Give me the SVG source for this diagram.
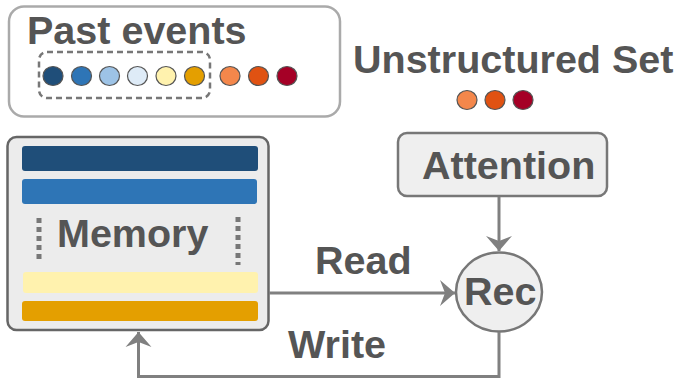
<svg xmlns="http://www.w3.org/2000/svg" width="681" height="378" viewBox="0 0 681 378">
  <style>
    .lbl { font-family: "Liberation Sans", Arial, sans-serif; font-weight: bold; font-size: 39.5px; fill: #555555; }
    .dot { stroke: #555555; stroke-width: 1.2; }
    .box { fill: #efefef; stroke: #777777; stroke-width: 2.5; }
    .bar { stroke: none; }
    .wire { fill: none; stroke: #808080; stroke-width: 3; }
    .vdots { stroke: #777777; stroke-width: 5; stroke-dasharray: 5 4; }
  </style>
  <defs>
    <marker id="arrow" markerUnits="userSpaceOnUse" viewBox="-16 -14 17 28" refX="0" refY="0" markerWidth="17" markerHeight="28" orient="auto">
      <path d="M0,0 L-15,-13 L-10,0 L-15,13 Z" fill="#808080"/>
    </marker>
  </defs>

  <!-- event stream panel -->
  <g id="past-events">
    <rect x="9" y="6.5" width="331" height="110" rx="15" fill="#ffffff" stroke="#aaaaaa" stroke-width="2.5"/>
    <text class="lbl" x="27" y="44">Past events</text>
    <rect x="39" y="52" width="171" height="46" rx="8" fill="none" stroke="#777777" stroke-width="2.5" stroke-dasharray="6 4"/>
    <ellipse class="dot" cx="53" cy="76" rx="10" ry="9.5" fill="#1f4e79"/>
    <ellipse class="dot" cx="81.5" cy="76" rx="10" ry="9.5" fill="#2e75b6"/>
    <ellipse class="dot" cx="109.5" cy="76" rx="10" ry="9.5" fill="#9dc3e6"/>
    <ellipse class="dot" cx="137.5" cy="76" rx="10" ry="9.5" fill="#deebf7"/>
    <ellipse class="dot" cx="166" cy="76" rx="10" ry="9.5" fill="#fff2ae"/>
    <ellipse class="dot" cx="194.5" cy="76" rx="10" ry="9.5" fill="#e49f00"/>
    <ellipse class="dot" cx="230" cy="76" rx="10" ry="9.5" fill="#f4874b"/>
    <ellipse class="dot" cx="258.5" cy="76" rx="10" ry="9.5" fill="#e05212"/>
    <ellipse class="dot" cx="287" cy="76" rx="10" ry="9.5" fill="#a50026"/>
  </g>

  <!-- unstructured set -->
  <g id="unstructured-set">
    <text class="lbl" x="353" y="73">Unstructured Set</text>
    <ellipse class="dot" cx="467" cy="100" rx="10" ry="9.5" fill="#f4874b"/>
    <ellipse class="dot" cx="495" cy="100" rx="10" ry="9.5" fill="#e05212"/>
    <ellipse class="dot" cx="523" cy="100" rx="10" ry="9.5" fill="#a50026"/>
  </g>

  <!-- memory slots -->
  <g id="memory">
    <rect x="7.5" y="137" width="261" height="193" rx="9" fill="#ececec" stroke="#666666" stroke-width="2.5"/>
    <rect class="bar" x="22" y="146" width="236" height="25" rx="3" fill="#1f4e79"/>
    <rect class="bar" x="22" y="179" width="235" height="25" rx="3" fill="#2e75b6"/>
    <rect class="bar" x="23" y="272" width="235" height="21" rx="3" fill="#fff2ae"/>
    <rect class="bar" x="22" y="301" width="236" height="20" rx="3" fill="#e49f00"/>
    <line class="vdots" x1="39" y1="218" x2="39" y2="262"/>
    <line class="vdots" x1="238" y1="217" x2="238" y2="265"/>
    <text class="lbl" x="57" y="247">Memory</text>
  </g>

  <!-- attention module -->
  <g id="attention">
    <rect class="box" x="398" y="133" width="209" height="63" rx="9"/>
    <text class="lbl" x="422" y="179">Attention</text>
  </g>

  <!-- recurrent unit -->
  <g id="rec">
    <ellipse class="box" cx="499" cy="292" rx="43" ry="39.5"/>
    <text class="lbl" x="464" y="305">Rec</text>
  </g>

  <!-- connectors -->
  <g id="connectors">
    <line class="wire" x1="499" y1="197" x2="499" y2="251" marker-end="url(#arrow)"/>
    <line class="wire" x1="269" y1="293" x2="455" y2="293" marker-end="url(#arrow)"/>
    <polyline class="wire" points="499,332 499,376.5 138.5,376.5 138.5,332" marker-end="url(#arrow)"/>
    <text class="lbl" x="315" y="274">Read</text>
    <text class="lbl" x="288" y="358">Write</text>
  </g>
</svg>
